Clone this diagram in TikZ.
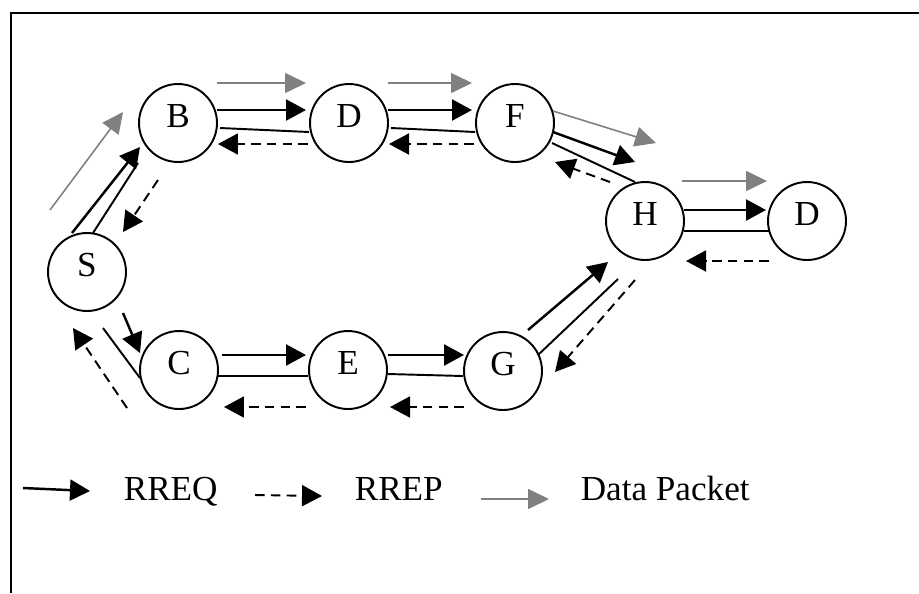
\documentclass[tikz,border=0pt]{standalone}
\usepackage{fontspec}
\setmainfont{Liberation Serif}
\usepackage{tikz}
\usetikzlibrary{arrows.meta, automata}
\definecolor{gray1}{rgb}{0.5,0.5,0.5}

\begin{document}
\begin{tikzpicture}[x=0.02cm,y=-0.02cm,line width=1.1pt,
                    >={Triangle[length=0.4cm,width=0.42cm]}]
  \tikzstyle{every state}=[draw,line width=1.1pt,minimum size=1.56cm,inner sep=0pt,
                           text height=13pt,text depth=8pt,font=\fontsize{20}{22}\selectfont]
  \tikzstyle{rreq}=[->,line width=1.4pt]
  \tikzstyle{rrep}=[->,dash pattern=on 5.5pt off 3.5pt]
  \tikzstyle{data}=[->,gray1,line width=0.9pt,>={Triangle[length=0.42cm,width=0.4cm]}]
  \tikzstyle{legend}=[anchor=base west,font=\fontsize{20}{22}\selectfont]

  \useasboundingbox (0,0) rectangle (919,593);
  \draw[line width=1.6pt] (919,13) -- (11,13) -- (11,593);

  \node[state]         (S)  at (87, 272)           {S};
  \node[state]         (B)  at (178, 123)          {B};
  \node[state]         (D)  at (349, 123)          {D};
  \node[state]         (F)  at (515, 123)          {F};
  \node[state]         (H)  at (645, 221)          {H};
  \node[state]         (D2) at (807, 221)          {D};
  \node[state]         (C)  at (179, 370)          {C};
  \node[state]         (E)  at (348, 370)          {E};
  \node[state]         (G)  at (503, 371)          {G};

  % S - B
  \draw[data] ([shift={(-37,-62)}]S.center) -- ([shift={(-55,-11)}]B.center);
  \draw[rreq] ([shift={(-15,-39)}]S.center) -- ([shift={(-38,24)}]B.center);
  \draw       ([shift={(6,-39)}]S.center)   -- ([shift={(-40,40)}]B.center);
  \draw[rrep] ([shift={(-20,57)}]B.center)  -- ([shift={(36,-40)}]S.center);
  % S - C
  \draw[rreq] ([shift={(36,41)}]S.center)   -- ([shift={(-39,-17)}]C.center);
  \draw       ([shift={(16,56)}]S.center)   -- ([shift={(-39,8)}]C.center);
  \draw[rrep] ([shift={(-52,38)}]C.center)  -- ([shift={(-14,56)}]S.center);
  % B - D - F
  \draw[data] ([shift={(39,-40)}]B.center)  -- ([shift={(-43,-40)}]D.center);
  \draw[rreq] ([shift={(39,-13)}]B.center)  -- ([shift={(-43,-13)}]D.center);
  \draw       ([shift={(42,5)}]B.center)    -- ([shift={(-40,9)}]D.center);
  \draw[rrep] ([shift={(-41,21)}]D.center)  -- ([shift={(40,21)}]B.center);
  \draw[data] ([shift={(39,-40)}]D.center)  -- ([shift={(-43,-40)}]F.center);
  \draw[rreq] ([shift={(39,-13)}]D.center)  -- ([shift={(-43,-13)}]F.center);
  \draw       ([shift={(42,5)}]D.center)    -- ([shift={(-40,9)}]F.center);
  \draw[rrep] ([shift={(-41,21)}]F.center)  -- ([shift={(40,21)}]D.center);
  % F - H
  \draw[data] ([shift={(38,-12)}]F.center)  -- ([shift={(11,-78)}]H.center);
  \draw[rreq] ([shift={(38,9)}]F.center)    -- ([shift={(-10,-59)}]H.center);
  \draw       ([shift={(37,20)}]F.center)   -- ([shift={(-10,-39)}]H.center);
  \draw[rrep] ([shift={(-35,-39)}]H.center) -- ([shift={(40,39)}]F.center);
  % H - D
  \draw[data] ([shift={(37,-40)}]H.center)  -- ([shift={(-40,-40)}]D2.center);
  \draw[rreq] ([shift={(39,-11)}]H.center)  -- ([shift={(-41,-11)}]D2.center);
  \draw       ([shift={(39,10)}]H.center)   -- ([shift={(-38,10)}]D2.center);
  \draw[rrep] ([shift={(-38,40)}]D2.center) -- ([shift={(41,40)}]H.center);
  % C - E - G
  \draw[rreq] ([shift={(43,-15)}]C.center)  -- ([shift={(-42,-15)}]E.center);
  \draw       ([shift={(39,6)}]C.center)    -- ([shift={(-40,6)}]E.center);
  \draw[rrep] ([shift={(-42,37)}]E.center)  -- ([shift={(45,37)}]C.center);
  \draw[rreq] ([shift={(40,-15)}]E.center)  -- ([shift={(-39,-16)}]G.center);
  \draw       ([shift={(40,4)}]E.center)    -- ([shift={(-40,5)}]G.center);
  \draw[rrep] ([shift={(-39,36)}]G.center)  -- ([shift={(42,37)}]E.center);
  % G - H
  \draw[rreq] ([shift={(25,-41)}]G.center)  -- ([shift={(-37,41)}]H.center);
  \draw       ([shift={(35,-16)}]G.center)  -- ([shift={(-27,58)}]H.center);
  \draw[rrep] ([shift={(-10,59)}]H.center)  -- ([shift={(52,1)}]G.center);

  % legend
  \coordinate (kreq1)  at (23, 488);
  \coordinate (kreq2)  at (90, 491);
  \coordinate (krep1)  at (255, 495);
  \coordinate (krep2)  at (322, 496);
  \coordinate (kdata1) at (481, 499);
  \coordinate (kdata2) at (549, 499);
  \draw[rreq] (kreq1) -- (kreq2);
  \draw[rrep] (krep1) -- (krep2);
  \draw[data] (kdata1) -- (kdata2);
  \node[legend] (lreq)  at (117, 500) {RREQ};
  \node[legend] (lrep)  at (348, 500) {RREP};
  \node[legend] (ldata) at (574, 500) {Data Packet};
\end{tikzpicture}
\end{document}
